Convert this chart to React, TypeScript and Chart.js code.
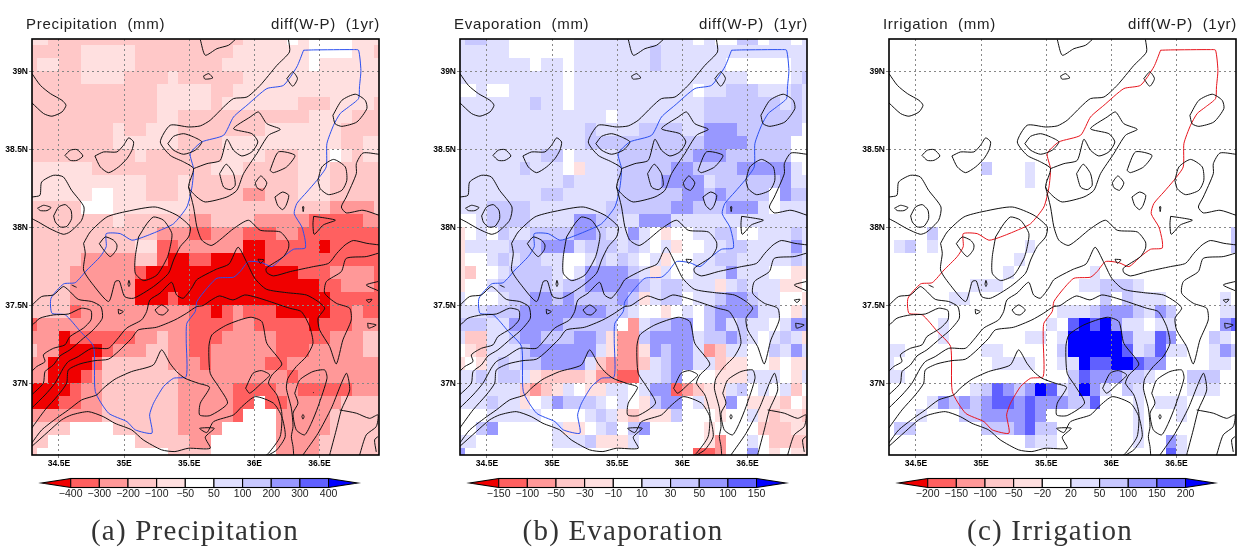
import React, { useEffect, useRef } from "react";
import Chart from "chart.js/auto";

// Cell codes, strongest decrease to strongest increase. "." is the neutral bin.
const binCodes = "ABCDE.abcde";
const binColors = ["#f00000", "#ff6060", "#ff9898", "#ffc8c8", "#ffe0e0", "#ffffff", "#e0e0ff", "#c8c8ff", "#9898ff", "#6060ff", "#0000ff"];
const precipBinValues = [-450, -350, -250, -150, -75, 0, 75, 150, 250, 350, 450];
const evapBinValues = [-175, -125, -75, -40, -20, 0, 20, 40, 75, 125, 175];
const irrigBinValues = [-225, -175, -125, -75, -35, 0, 35, 75, 125, 175, 225];

const precipLevels = ["−400", "−300", "−200", "−100", "−50", "50", "100", "200", "300", "400"];
const evapLevels = ["−150", "−100", "−50", "−30", "−10", "10", "30", "50", "100", "150"];
const irrigLevels = ["−200", "−150", "−100", "−50", "−20", "20", "50", "100", "150", "200"];

const lonTicks = [34.5, 35, 35.5, 36, 36.5];
const lonTickLabels = ["34.5E", "35E", "35.5E", "36E", "36.5E"];
const latTicks = [37, 37.5, 38, 38.5, 39];
const latTickLabels = ["37N", "37.5N", "38N", "38.5N", "39N"];

const precipRows = [
  "EEDDDDDDDDDDDDDDDDDDEEEE.E....EEE",
  "DDDDDEEEEEDDDDDDDDDEEEEEEE....EED",
  "DEEDDEEEEEDDDDDDDDEEEEEEEE.EEEEEE",
  "DDDDDEEEEDDDDEDDDDDDEEEEEEEEEEEEE",
  "DDDDDDDDDDDDEEEEEDDEEEEEEEEEEEEEE",
  "DDDDDDDDDDDDEEEEEDEEEEEEEDDDEEEED",
  "DDDDDDDDDDDDEEDDDDDDDDDDDDEEEEDDD",
  "DDDDDDDDEDDEEEDDDDDDDDEEEEEEEDDDD",
  "DDDDDDDDEEEEEEDDDDEEEEEEEEEEEDDEE",
  "DDDDDDDDDDEDDDDDDDEEEEDDDEEE.EDEE",
  "EEEEEEDDDDDDDDDDDEEEDDDDDEEEDDDDD",
  "EEEEEEEEEEEDDDEDDDDDDDDDDEEEDDDDD",
  "EEEEEE..EEEDDDEDDDDDCCDDDEEEDDDDD",
  "DDDDD...EEEEEEEDDDDDDDDDDDDDCCCCD",
  "DDDDDDDDEDDDDDDCCDDDDCCCCCBBBBBCC",
  "DDDDDDDDDDDDCCCBBCCCBBBCCBBBBBBBB",
  "DDDDDDDDDDEEBBCCCCCCAABBBBBABBBBB",
  "DDDDDCCCCCDDBAABBAAAAABBBBBBBBBBB",
  "DDDDCCCCCCBAAAAAAAAAAAAAABBBCCCCB",
  "DDDDCCCCCCAAAAAAAAAAAAAAAAABBCCCB",
  "DDDDCCCCCCAAABAAAAAAAAAAAAAABBBBB",
  "DDDDBCCCCCCCCCCBBABCBBBAAAAABBCBB",
  "BCCCCCCCCCCCCCCBBBBCCBBBBBABBBCCC",
  "CCCABBBBBBCCDCCBBBCCCCCBBBBBCCCDD",
  "DCCAAAABCCCDDCCBBCCCCCCBBBCCCCCDD",
  "CCAAAABDDDDDDCCCBCCCCCBBCCCCCCCCC",
  "CCAAABCDDDDDDDCCCCCCCCCCBCCCCCCCC",
  "AAAABCCDDDDDDDCCCCCBBBBCCBBBBBCCC",
  "AAABBCCDDDDDDDCCCCCBB.BBCCCCCDDDD",
  "CCCCCCCDDDDDDDCCCCCB...CCCCCDDDDD",
  "DDDD....DDDDDDCCCC.....CCCCCDDDDD",
  "DD........DDDDDCC......CCCCDDDDDD",
  "D............DDDD......CCCCDDDDDD",
];

const evapRows = [
  "abbaa......aaaaaaaaaaa.a..bb.aa.a",
  "aaaaa......aaaaaaabaaaaaaaaaaaaaa",
  "aaaaaaa.aa.aaaaaaabaaaaaa......aa",
  "aaaaaaaaaa.aaaaaaaaaaaaaaaa....ab",
  "..a..aaaaa.aaaaaaaaaaa.aabbbaaaba",
  "aaaaaaabaa.aaaaaaaaaaaabbbbbbbaba",
  "aaaaaaaaaaaaaa.aaaaaaaabbbbbbbbba",
  "aaaaaaaaaaaabaaaabbbbaacccbbbbbb.",
  "aaaaaaaaaaaabbbbbbbbbbbccccbbbb..",
  "aaaaaaaabb.aaaabbbbbbbcccbbbbbb..",
  "aaaaaabaaa.Eaaabbbbbccbbbbccccca.",
  "aaaaaaaaaabaaaabbbbccccabbbbbbcaa",
  "aaaaaaaabbaaaaabbbbbbccbcbbbb.cbb",
  "aaabbbbaaaaaaabbbbbbccbbbccca.aaa",
  "..abbbbaaaaccbbaacccaaaaaaaaaaaaa",
  "E.a.baabbbbccbaaca.E..aabb..aaaba",
  "Eaaaabbbcccabbbaba.aE..aabbaaaaca",
  "E..ababbaa..ababa.aE..aabbaaaaaba",
  "ED..abbbba.accccbaEa..aaacaaa..EE",
  "E..abbbbbabbcccccbabbaaaEabaaaEE.",
  "a...abbccbcbbbbcbEabb.aabccbaa..E",
  "aaabbbccccccccbba..E.a.bccccaa.Ea",
  "bbbaacccccbbbbb.Cabbcc.bcabaa.acc",
  "aDDaabccbbbccbECCbccccabbcba.abaE",
  ".EDaaabccccccaECCEcbccaCDaa..baca",
  "E.EababbccccaDCCCDabccaaDEE..E.EE",
  "aababbaEDDDDECCBBaabc...EEEaaa.Ea",
  "aaaaaaDCDEa.EEaa.accBCDEEab.a.aD.",
  "aaabaaE.acbbba.a.Ebcc.aEEc.EEED.E",
  "...aaaaa....abaEDEEEb...E..aEDEED",
  "..bc.....aEE.ab.bc.....E....DDDEE",
  "aa.......aaabEEEa......EC..a.DDDD",
  "c.....................BBC..c.E.EE",
];

const irrigRows = [
  ".................................",
  ".................................",
  ".................................",
  ".................................",
  ".................................",
  ".................................",
  ".................................",
  ".................................",
  ".................................",
  ".................................",
  ".........b...a...................",
  ".............a...................",
  ".................................",
  ".................................",
  ".................................",
  "....b...........................b",
  ".ab.a........a..................b",
  "............a....................",
  "...........a.......a.............",
  "........aaa.......aabbba.........",
  "......aa............b.baaa.....a.",
  "................aaabcccbacb....aa",
  ".....a.........a.dedecaa.aa....cd",
  ".....a.......aa.aeeeeecaadc...ba.",
  "aa.......aa.....beeeeedabdaa..acb",
  "a.........aaaa..aaeddeedcc....aa.",
  "aa...............bdcccbba...bbb..",
  "........abdcbcedabeca.ba....aaa..",
  "....acbcbcddcdcccbbd...a.aaa.....",
  "...a...bbccccdc........a...a.....",
  ".bb......bbbcdbb.......a.........",
  ".............baa.......a..ca.....",
  "..........................da.....",
];

const contourNorthWest = [[34.293,38.985],[34.357,38.91],[34.434,38.857],[34.523,38.814],[34.554,38.782],[34.523,38.739],[34.446,38.712],[34.382,38.729],[34.293,38.797]];
const contourSmallWest = [[34.546,38.461],[34.587,38.494],[34.638,38.498],[34.684,38.457],[34.638,38.429],[34.587,38.429],[34.546,38.461]];
const contourBlobWest = [[34.776,38.457],[34.843,38.483],[34.945,38.483],[34.996,38.526],[35.035,38.573],[35.073,38.547],[35.06,38.494],[35.022,38.44],[34.958,38.387],[34.881,38.35],[34.817,38.387],[34.776,38.457]];
const contourLoopWest = [[34.293,38.194],[34.354,38.205],[34.367,38.29],[34.457,38.333],[34.533,38.323],[34.597,38.237],[34.692,38.13],[34.674,38.045],[34.584,37.97],[34.533,37.955],[34.431,37.991],[34.341,38.034],[34.293,38.055]];
const contourTinyWest = [[34.336,38.122],[34.382,38.141],[34.439,38.126],[34.408,38.107],[34.357,38.107],[34.336,38.122]];
const contourOvalWest = [[34.459,38.073],[34.497,38.13],[34.549,38.145],[34.592,38.109],[34.597,38.055],[34.561,38.006],[34.51,38.002],[34.472,38.034],[34.459,38.073]];
const contourOvalCentre = [[35.336,38.536],[35.38,38.583],[35.457,38.6],[35.533,38.579],[35.597,38.547],[35.546,38.494],[35.457,38.468],[35.38,38.494],[35.336,38.536]];
const contourMain = [[36.262,39.203],[36.27,39.124],[36.173,39.038],[36.045,38.91],[35.943,38.835],[35.84,38.825],[35.764,38.771],[35.661,38.686],[35.585,38.65],[35.495,38.643],[35.354,38.654],[35.278,38.547],[35.354,38.461],[35.457,38.419],[35.533,38.376],[35.495,38.258],[35.559,38.194],[35.623,38.162],[35.789,38.194],[35.866,38.237],[35.917,38.344],[36.019,38.472],[36.109,38.59],[36.199,38.628],[36.096,38.664],[36.032,38.739],[35.968,38.707],[35.84,38.632],[35.981,38.6],[36.027,38.547],[35.981,38.483],[35.904,38.457],[35.84,38.494],[35.789,38.564],[35.738,38.429],[35.636,38.408],[35.533,38.376]];
const contourTop = [[35.585,39.203],[35.623,39.103],[35.713,39.145],[35.802,39.167],[35.853,39.203]];
const contourTriTop = [[35.61,38.97],[35.65,38.985],[35.68,38.957],[35.62,38.95],[35.61,38.97]];
const contourDiamondTop = [[36.249,38.953],[36.295,38.996],[36.331,38.953],[36.295,38.904],[36.249,38.953]];
const contourOvalNorthEast = [[36.603,38.718],[36.672,38.814],[36.775,38.853],[36.851,38.814],[36.864,38.761],[36.787,38.675],[36.672,38.647],[36.62,38.664],[36.603,38.718]];
const contourOvalMid = [[35.733,38.344],[35.784,38.404],[35.84,38.344],[35.853,38.269],[35.815,38.241],[35.764,38.258],[35.733,38.344]];
const contourOvalSmall = [[36.007,38.286],[36.05,38.329],[36.096,38.284],[36.063,38.237],[36.02,38.254],[36.007,38.286]];
const contourKite = [[36.12,38.365],[36.185,38.483],[36.312,38.461],[36.248,38.387],[36.146,38.35],[36.12,38.365]];
const contourDrop = [[36.158,38.194],[36.217,38.226],[36.264,38.205],[36.244,38.141],[36.217,38.113],[36.179,38.141],[36.158,38.194]];
const contourTinyDrop = [[36.37,38.13],[36.375,38.135],[36.38,38.13],[36.375,38.1],[36.37,38.13]];
const contourWedge = [[36.455,38.07],[36.54,38.06],[36.622,38.045],[36.53,38.015],[36.46,37.955],[36.45,38.02],[36.455,38.07]];
const contourOvalEast = [[36.488,38.301],[36.519,38.387],[36.608,38.435],[36.698,38.387],[36.71,38.301],[36.672,38.237],[36.57,38.209],[36.506,38.247],[36.488,38.301]];
const contourEastEdge = [[36.957,38.468],[36.834,38.476],[36.783,38.408],[36.783,38.344],[36.706,38.194],[36.668,38.13],[36.706,38.092],[36.834,38.109],[36.957,38.077]];
const contourInnerLoop = [[35.111,37.938],[35.175,38.023],[35.226,38.066],[35.303,38.045],[35.367,37.959],[35.349,37.855],[35.329,37.801],[35.252,37.694],[35.15,37.658],[35.086,37.705],[35.086,37.812],[35.111,37.938]];
const contourOuterLoop = [[34.689,37.897],[34.74,37.97],[34.868,38.066],[35.022,38.102],[35.239,38.13],[35.406,38.077],[35.508,38.002],[35.495,37.938],[35.431,37.876],[35.38,37.79],[35.341,37.705],[35.226,37.62],[35.073,37.545],[35.004,37.556],[34.963,37.656],[34.932,37.652],[34.881,37.524],[34.753,37.641],[34.689,37.726],[34.702,37.833],[34.689,37.897]];
const contourBasinOval = [[34.81,37.895],[34.855,37.938],[34.919,37.917],[34.945,37.887],[34.94,37.855],[34.894,37.812],[34.843,37.855],[34.81,37.895]];
const contourBandUpper = [[35.495,38.258],[35.533,38.13],[35.559,38.002],[35.597,37.917],[35.674,37.884],[35.84,37.991],[35.955,38.045],[36.045,37.981],[36.199,37.97],[36.262,37.906],[36.262,37.865],[36.224,37.812],[36.091,37.737],[36.096,37.709],[36.148,37.688],[36.276,37.716],[36.455,37.748],[36.57,37.769],[36.633,37.833],[36.697,37.887],[36.76,37.915],[36.864,37.897],[36.957,37.887]];
const contourSouthWestA = [[34.29,37.368],[34.354,37.417],[34.457,37.438],[34.572,37.444],[34.674,37.481],[34.746,37.466],[34.746,37.406],[34.687,37.353],[34.584,37.299],[34.546,37.246],[34.457,37.224],[34.38,37.182],[34.393,37.139],[34.329,37.107],[34.29,37.075]];
const contourSouthWestB = [[34.29,37.498],[34.367,37.556],[34.457,37.566],[34.533,37.62],[34.572,37.598],[34.648,37.538],[34.751,37.524],[34.822,37.491],[34.833,37.417],[34.763,37.342],[34.687,37.288],[34.584,37.214],[34.508,37.175],[34.457,37.117],[34.393,37.075],[34.38,37.0],[34.29,36.925]];
const contourLong = [[34.29,36.84],[34.393,36.925],[34.469,37.0],[34.533,37.096],[34.572,37.139],[34.648,37.171],[34.751,37.224],[34.879,37.224],[34.943,37.278],[35.019,37.353],[35.134,37.406],[35.173,37.459],[35.198,37.534],[35.275,37.577],[35.365,37.647],[35.403,37.566],[35.454,37.545],[35.518,37.609],[35.556,37.662],[35.606,37.688],[35.708,37.731],[35.806,37.765],[35.875,37.872],[35.939,37.78],[36.003,37.673],[36.092,37.603],[36.246,37.581],[36.399,37.566],[36.489,37.524],[36.54,37.481],[36.489,37.417],[36.501,37.342],[36.578,37.235],[36.629,37.124],[36.68,37.278],[36.744,37.406],[36.732,37.481],[36.629,37.513],[36.54,37.577],[36.553,37.652],[36.668,37.716],[36.706,37.801],[36.859,37.812],[36.949,37.833]];
const contourBandLower = [[34.29,36.711],[34.393,36.829],[34.495,36.925],[34.559,37.0],[34.572,37.085],[34.661,37.124],[34.776,37.145],[34.879,37.154],[34.955,37.203],[35.058,37.288],[35.109,37.342],[35.249,37.359],[35.39,37.406],[35.48,37.449],[35.556,37.491],[35.606,37.498],[35.67,37.534],[35.734,37.56],[35.836,37.534],[35.926,37.566],[36.015,37.551],[36.118,37.524],[36.271,37.481],[36.361,37.459],[36.425,37.363],[36.45,37.256],[36.399,37.171],[36.322,37.107],[36.258,37.032],[36.246,36.968],[36.284,36.84],[36.297,36.722],[36.284,36.658],[36.297,36.594],[36.302,36.54]];
const contourCentralLoop = [[34.29,36.615],[34.367,36.7],[34.482,36.776],[34.572,36.829],[34.674,36.893],[34.789,36.925],[34.84,36.968],[34.93,37.026],[35.058,37.075],[35.224,37.117],[35.288,37.214],[35.352,37.128],[35.403,37.075],[35.467,37.032],[35.569,37.0],[35.656,36.974],[35.585,36.872],[35.58,36.797],[35.661,36.793],[35.794,36.872],[35.725,36.979],[35.661,37.064],[35.651,37.235],[35.674,37.31],[35.789,37.374],[35.968,37.423],[36.058,37.395],[36.096,37.256],[36.211,37.124],[36.135,37.053],[36.109,37.0],[36.173,36.925],[36.211,36.808],[36.198,36.658],[36.109,36.551],[36.083,36.534]];
const contourSouth = [[34.29,36.594],[34.418,36.69],[34.52,36.765],[34.597,36.797],[34.725,36.818],[34.84,36.786],[34.93,36.743],[35.058,36.701],[35.147,36.637],[35.288,36.573],[35.39,36.562],[35.492,36.583],[35.661,36.583],[35.623,36.654],[35.692,36.711],[35.58,36.711],[35.636,36.684],[35.687,36.754],[35.84,36.797],[35.904,36.85],[36.007,36.914],[36.147,36.872],[36.211,36.786],[36.237,36.658],[36.173,36.573],[36.109,36.54]];
const contourOvalSouthEast = [[36.31,36.936],[36.348,37.021],[36.45,37.075],[36.54,37.085],[36.558,37.032],[36.489,36.85],[36.437,36.743],[36.386,36.669],[36.322,36.701],[36.297,36.808],[36.335,36.872],[36.31,36.936]];
const contourDiamondSouth = [[36.365,36.786],[36.373,36.8],[36.382,36.786],[36.373,36.77],[36.365,36.786]];
const contourDot = [[36.45,36.94],[36.456,36.94]];
const contourOvalCut = [[35.933,36.968],[35.99,37.064],[36.054,37.081],[36.118,37.053],[36.054,37.0],[35.964,36.936],[35.933,36.968]];
const contourSpikeEast = [[36.373,36.54],[36.489,36.679],[36.591,36.84],[36.706,37.064],[36.732,36.957],[36.668,36.829],[36.629,36.701],[36.578,36.54]];
const contourCornerEast = [[36.655,36.829],[36.783,36.808],[36.885,36.775],[36.949,36.797],[36.936,36.722],[36.859,36.669],[36.808,36.54]];
const contourCornerSmall = [[36.949,36.658],[36.923,36.637],[36.936,36.56]];
const contourArcEast = [[36.949,37.652],[36.859,37.63],[36.949,37.594]];
const contourTriEastA = [[36.859,37.534],[36.903,37.538],[36.88,37.517],[36.859,37.534]];
const contourTriEastB = [[36.87,37.385],[36.936,37.374],[36.877,37.353],[36.87,37.385]];
const contourTriMid = [[36.028,37.795],[36.074,37.791],[36.046,37.769],[36.028,37.795]];
const contourDiamondWest = [[35.03,37.635],[35.037,37.66],[35.045,37.635],[35.037,37.62],[35.03,37.635]];
const contourTriWest = [[34.955,37.474],[34.994,37.459],[34.96,37.444],[34.955,37.474]];
const contourOvalBand = [[35.237,37.47],[35.288,37.502],[35.339,37.47],[35.3,37.438],[35.262,37.444],[35.237,37.47]];
const contourTick = [[34.597,37.63],[34.635,37.615]];

const allContours = [contourNorthWest, contourSmallWest, contourBlobWest, contourLoopWest, contourTinyWest, contourOvalWest, contourOvalCentre, contourMain, contourTop, contourTriTop, contourDiamondTop, contourOvalNorthEast, contourOvalMid, contourOvalSmall, contourKite, contourDrop, contourTinyDrop, contourWedge, contourOvalEast, contourEastEdge, contourInnerLoop, contourOuterLoop, contourBasinOval, contourBandUpper, contourSouthWestA, contourSouthWestB, contourLong, contourBandLower, contourCentralLoop, contourSouth, contourOvalSouthEast, contourDiamondSouth, contourDot, contourOvalCut, contourSpikeEast, contourCornerEast, contourCornerSmall, contourArcEast, contourTriEastA, contourTriEastB, contourTriMid, contourDiamondWest, contourTriWest, contourOvalBand, contourTick];

const basinOutline = [[36.378,39.135],[36.454,39.137],[36.761,39.139],[36.8,39.135],[36.818,39.006],[36.807,38.9],[36.8,38.825],[36.723,38.771],[36.659,38.729],[36.608,38.654],[36.557,38.536],[36.552,38.387],[36.48,38.301],[36.403,38.226],[36.326,38.152],[36.306,38.087],[36.365,38.002],[36.39,37.917],[36.39,37.866],[36.301,37.859],[36.224,37.812],[36.135,37.748],[36.058,37.773],[35.955,37.78],[35.891,37.716],[35.84,37.68],[35.713,37.673],[35.636,37.609],[35.559,37.524],[35.546,37.459],[35.482,37.385],[35.477,37.278],[35.477,37.043],[35.38,37.032],[35.303,36.979],[35.226,36.872],[35.196,36.797],[35.214,36.68],[35.086,36.701],[35.022,36.754],[34.881,36.808],[34.779,36.947],[34.766,37.235],[34.664,37.332],[34.549,37.438],[34.446,37.449],[34.439,37.545],[34.536,37.637],[34.625,37.645],[34.715,37.726],[34.817,37.812],[34.863,37.876],[34.863,37.959],[34.971,37.959],[35.06,37.917],[35.15,37.938],[35.278,37.981],[35.38,38.023],[35.482,38.13],[35.521,38.258],[35.533,38.376],[35.508,38.472],[35.597,38.547],[35.764,38.59],[35.84,38.707],[35.943,38.782],[36.096,38.889],[36.224,38.91],[36.326,39.028],[36.378,39.135]];

const LON_MIN = 34.293, LON_MAX = 36.957, LAT_MIN = 36.54, LAT_MAX = 39.207;
const GRID_LON0 = 34.25, GRID_LAT0 = 39.25, GRID_STEP = 1 / 12;

type PanelSpec = {
  chartLeft: number; title: string; caption: string; captionX: number;
  rows: string[]; binValues: number[]; levels: string[]; basinColor: string;
};

const panels: PanelSpec[] = [
  { chartLeft: 32, title: "Precipitation  (mm)", caption: "(a) Precipitation", captionX: 195, rows: precipRows, binValues: precipBinValues, levels: precipLevels, basinColor: "#2a4ff0" },
  { chartLeft: 460, title: "Evaporation  (mm)", caption: "(b) Evaporation", captionX: 623, rows: evapRows, binValues: evapBinValues, levels: evapLevels, basinColor: "#2a4ff0" },
  { chartLeft: 889, title: "Irrigation  (mm)", caption: "(c) Irrigation", captionX: 1050, rows: irrigRows, binValues: irrigBinValues, levels: irrigLevels, basinColor: "#e8141c" },
];

function buildCells(rows: string[], binValues: number[]) {
  const cells: { x: number; y: number; v: number; code: number }[] = [];
  rows.forEach((row, r) => {
    for (let c = 0; c < row.length; c++) {
      const code = binCodes.indexOf(row[c]);
      if (code < 0) continue;
      cells.push({ x: GRID_LON0 + (c + 0.5) * GRID_STEP, y: GRID_LAT0 - (r + 0.5) * GRID_STEP, v: binValues[code], code });
    }
  });
  return cells;
}

const toPoints = (line: number[][]) => line.map(([x, y]) => ({ x, y }));

const panelPlugin = (p: PanelSpec) => ({
  id: "panelDecor",
  beforeDraw(chart: any) {
    const { ctx, chartArea: a, scales } = chart;
    ctx.save();
    ctx.beginPath();
    ctx.rect(a.left, a.top, a.width, a.height);
    ctx.clip();
    const half = GRID_STEP / 2;
    for (const cell of chart.data.datasets[0].data) {
      const x0 = Math.round(scales.x.getPixelForValue(cell.x - half));
      const x1 = Math.round(scales.x.getPixelForValue(cell.x + half));
      const y0 = Math.round(scales.y.getPixelForValue(cell.y + half));
      const y1 = Math.round(scales.y.getPixelForValue(cell.y - half));
      ctx.fillStyle = binColors[cell.code];
      ctx.fillRect(x0, y0, x1 - x0, y1 - y0);
    }
    ctx.restore();
  },
  afterDraw(chart: any) {
    const { ctx, chartArea: a } = chart;
    ctx.save();
    ctx.strokeStyle = "#000";
    ctx.lineWidth = 1.6;
    ctx.strokeRect(a.left, a.top, a.width, a.height);

    // Titles
    ctx.fillStyle = "#222";
    ctx.font = '15px "Liberation Sans"';
    (ctx as any).letterSpacing = "0.7px";
    ctx.textBaseline = "alphabetic";
    ctx.textAlign = "left";
    ctx.fillText(p.title, a.left - 6, 29);
    ctx.textAlign = "right";
    ctx.fillText("diff(W-P)  (1yr)", a.right + 1, 29);
    (ctx as any).letterSpacing = "0px";

    // Colour bar
    const bx = a.left + 38.7, bw = 28.65, by = 478.5, bh = 9;
    const mid = by + bh / 2;
    ctx.fillStyle = binColors[0];
    ctx.beginPath();
    ctx.moveTo(bx - 29, mid); ctx.lineTo(bx, by); ctx.lineTo(bx, by + bh); ctx.closePath();
    ctx.fill();
    ctx.fillStyle = binColors[10];
    ctx.beginPath();
    ctx.moveTo(bx + 9 * bw + 29, mid); ctx.lineTo(bx + 9 * bw, by); ctx.lineTo(bx + 9 * bw, by + bh); ctx.closePath();
    ctx.fill();
    ctx.strokeStyle = "#000";
    ctx.lineWidth = 1.1;
    for (let i = 0; i < 9; i++) {
      ctx.fillStyle = binColors[i + 1];
      ctx.fillRect(bx + i * bw, by, bw, bh);
      ctx.strokeRect(bx + i * bw, by, bw, bh);
    }
    ctx.beginPath();
    ctx.moveTo(bx, by); ctx.lineTo(bx - 29, mid); ctx.lineTo(bx, by + bh);
    ctx.moveTo(bx + 9 * bw, by); ctx.lineTo(bx + 9 * bw + 29, mid); ctx.lineTo(bx + 9 * bw, by + bh);
    ctx.stroke();
    ctx.fillStyle = "#222";
    ctx.font = '10.5px "Liberation Sans"';
    ctx.textAlign = "center";
    p.levels.forEach((t, i) => ctx.fillText(t, bx + i * bw, 497));
    ctx.restore();
  },
});

function Panel({ spec }: { spec: PanelSpec }) {
  const ref = useRef<HTMLCanvasElement | null>(null);
  const left = spec.chartLeft - 32;
  const width = spec === panels[2] ? 1237 - left : 420;
  useEffect(() => {
    if (!ref.current) return;
    const tickOpts = { font: { size: 8.5, weight: "bold" as const, family: '"Liberation Sans"' }, color: "#000", autoSkip: false, maxRotation: 0, padding: 1 };
    const grid = { color: "#888", lineWidth: 1, tickLength: 3 };
    const chart = new Chart(ref.current, {
      type: "scatter",
      data: {
        datasets: [
          { label: "cells", data: buildCells(spec.rows, spec.binValues) as any, pointRadius: 0, showLine: false },
          ...allContours.map((c, i) => ({ label: "contour " + i, data: toPoints(c) as any, showLine: true, pointRadius: 0, borderColor: "#111", borderWidth: 1, tension: 0.22 })),
          { label: "basin", data: toPoints(basinOutline) as any, showLine: true, pointRadius: 0, borderColor: spec.basinColor, borderWidth: 1, tension: 0.2 },
        ],
      },
      options: {
        animation: false, responsive: false, events: [],
        layout: { padding: { left: 0, top: 39, right: width - 32 - 347, bottom: 548 - 455 - 20 } },
        plugins: { legend: { display: false }, tooltip: { enabled: false } },
        scales: {
          x: {
            type: "linear", min: LON_MIN, max: LON_MAX,
            afterBuildTicks: (s: any) => { s.ticks = lonTicks.map((value) => ({ value })); },
            afterFit: (s: any) => { s.height = 20; },
            ticks: { ...tickOpts, callback: (v: any) => lonTickLabels[lonTicks.indexOf(v)] ?? "" },
            grid, border: { display: false, dash: [2, 3] },
          },
          y: {
            type: "linear", min: LAT_MIN, max: LAT_MAX,
            afterBuildTicks: (s: any) => { s.ticks = latTicks.map((value) => ({ value })); },
            afterFit: (s: any) => { s.width = 32; },
            ticks: { ...tickOpts, callback: (v: any) => latTickLabels[latTicks.indexOf(v)] ?? "" },
            grid, border: { display: false, dash: [2, 3] },
          },
        },
      },
      plugins: [panelPlugin(spec)],
    } as any);
    return () => chart.destroy();
  }, []);
  return (
    <>
      <canvas ref={ref} width={width} height={548} style={{ position: "absolute", left, top: 0, width, height: 548 }} />
      <div style={{ position: "absolute", left: spec.captionX - 170, width: 340, top: 514, textAlign: "center", font: '29px "Liberation Serif"', letterSpacing: "1.2px", color: "#333", whiteSpace: "nowrap", lineHeight: "32px" }}>{spec.caption}</div>
    </>
  );
}

export default function App() {
  return (
    <div style={{ position: "absolute", left: 0, top: 0, width: 1237, height: 548, overflow: "hidden", background: "#fff" }}>
      {panels.map((p) => <Panel key={p.title} spec={p} />)}
    </div>
  );
}
